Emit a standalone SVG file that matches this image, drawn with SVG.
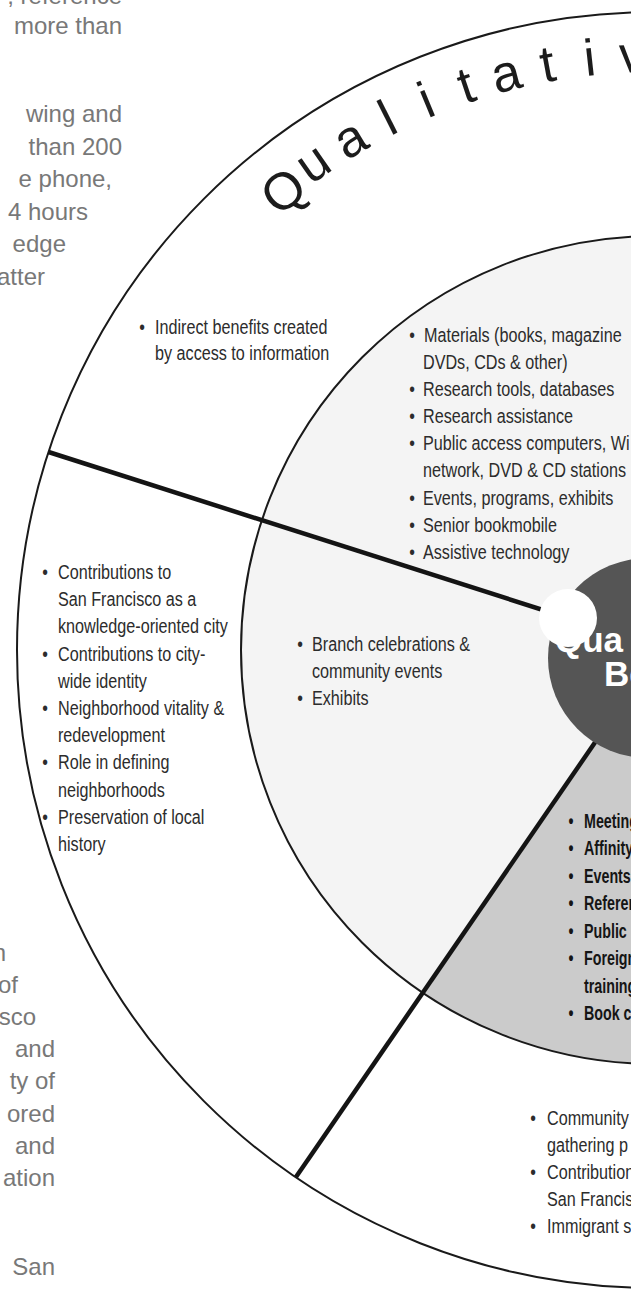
<svg xmlns="http://www.w3.org/2000/svg" width="631" height="1291" viewBox="0 0 631 1291">
<style>
.ring{fill:none;stroke:#1a1a1a;stroke-width:2}
.div{fill:none;stroke:#141414;stroke-width:4.5}
.body{font-family:"Liberation Sans",Arial,sans-serif;font-size:24px;fill:#787878;text-anchor:end}
.c{font-family:"Liberation Sans",Arial,sans-serif;font-size:21px;fill:#2c2c2c}
.cb{font-family:"Liberation Sans",Arial,sans-serif;font-size:21px;fill:#151515;font-weight:bold}
.bl{text-anchor:middle}
.arc{font-family:"Liberation Sans",Arial,sans-serif;font-size:52px;fill:#1c1c1c;text-anchor:middle}
.core{font-family:"Liberation Sans",Arial,sans-serif;font-size:35px;font-weight:bold;fill:#fff}
</style>
<rect width="631" height="1291" fill="#fff"/>

<g id="page-text-top" class="body">
<text x="122" y="4">, reference</text>
<text x="122" y="34">more than</text>
<text x="122" y="122">wing and</text>
<text x="122" y="155">than 200</text>
<text x="112" y="187">e phone,</text>
<text x="88" y="220">4 hours</text>
<text x="66" y="252">edge</text>
<text x="45" y="285">atter</text>
</g>
<g id="page-text-bottom" class="body">
<text x="6" y="961">n</text>
<text x="18" y="993">of</text>
<text x="36" y="1025">sco</text>
<text x="55" y="1057">and</text>
<text x="55" y="1089">ty of</text>
<text x="55" y="1122">ored</text>
<text x="55" y="1154">and</text>
<text x="55" y="1186">ation</text>
<text x="55" y="1275">San</text>
</g>

<g id="inner-disk">
<circle cx="655" cy="650" r="414" fill="#f4f4f4"/>
</g>
<g id="gray-sector">
<path d="M607 725 L423 993 A414 414 0 0 0 1069 650 L655 650 Z" fill="#cbcbcb"/>
</g>
<g id="outer-ring">
<circle class="ring" cx="655" cy="650" r="638"/>
</g>
<g id="middle-ring">
<circle class="ring" cx="655" cy="650" r="414"/>
</g>

<g id="connectors">
<line class="div" x1="48.5" y1="452" x2="568" y2="618"/>
<line class="div" x1="607" y1="725" x2="296" y2="1177"/>
</g>

<g id="core">
<circle cx="648" cy="658" r="100" fill="#555"/>
<text class="core" x="555" y="652">Qua</text>
<text class="core" x="604" y="686">Be</text>
<circle cx="568" cy="618" r="29" fill="#fff"/>
</g>

<g id="ring-title">
<text class="arc" transform="translate(294.4 204.7) rotate(-39)">Q</text>
<text class="arc" transform="translate(322.6 177.1) rotate(-34.9)">u</text>
<text class="arc" transform="translate(359 153.5) rotate(-30.8)">a</text>
<text class="arc" transform="translate(395.3 133.6) rotate(-26.7)">l</text>
<text class="arc" transform="translate(432.9 116.4) rotate(-22.6)">i</text>
<text class="arc" transform="translate(471.6 101.9) rotate(-18.5)">t</text>
<text class="arc" transform="translate(510.3 90.4) rotate(-14.5)">a</text>
<text class="arc" transform="translate(550.7 81.5) rotate(-10.4)">t</text>
<text class="arc" transform="translate(591.6 75.5) rotate(-6.3)">i</text>
<text class="arc" transform="translate(632.8 72.4) rotate(-2.2)">v</text>
</g>

<g id="indirect-benefits" transform="scale(0.77 1)">
<text class="c bl" x="184.42" y="334">•</text>
<text class="c" x="201.3" y="334">Indirect benefits created</text>
<text class="c" x="201.3" y="360">by access to information</text>
</g>

<g id="city-contributions" transform="scale(0.77 1)">
<text class="c bl" x="58.44" y="579">•</text>
<text class="c" x="75.32" y="579">Contributions to</text>
<text class="c" x="75.32" y="606.2">San Francisco as a</text>
<text class="c" x="75.32" y="633.4">knowledge-oriented city</text>
<text class="c bl" x="58.44" y="660.6">•</text>
<text class="c" x="75.32" y="660.6">Contributions to city-</text>
<text class="c" x="75.32" y="687.8">wide identity</text>
<text class="c bl" x="58.44" y="715">•</text>
<text class="c" x="75.32" y="715">Neighborhood vitality &amp;</text>
<text class="c" x="75.32" y="742.2">redevelopment</text>
<text class="c bl" x="58.44" y="769.4">•</text>
<text class="c" x="75.32" y="769.4">Role in defining</text>
<text class="c" x="75.32" y="796.6">neighborhoods</text>
<text class="c bl" x="58.44" y="823.8">•</text>
<text class="c" x="75.32" y="823.8">Preservation of local</text>
<text class="c" x="75.32" y="851">history</text>
</g>

<g id="materials" transform="scale(0.77 1)">
<text class="c bl" x="535.06" y="342">•</text>
<text class="c" x="550.65" y="342">Materials (books, magazine</text>
<text class="c" x="549.35" y="369.1">DVDs, CDs &amp; other)</text>
<text class="c bl" x="535.06" y="396.2">•</text>
<text class="c" x="549.35" y="396.2">Research tools, databases</text>
<text class="c bl" x="535.06" y="423.3">•</text>
<text class="c" x="549.35" y="423.3">Research assistance</text>
<text class="c bl" x="535.06" y="450.4">•</text>
<text class="c" x="549.35" y="450.4">Public access computers, Wi</text>
<text class="c" x="549.35" y="477.5">network, DVD &amp; CD stations</text>
<text class="c bl" x="535.06" y="504.6">•</text>
<text class="c" x="549.35" y="504.6">Events, programs, exhibits</text>
<text class="c bl" x="535.06" y="531.7">•</text>
<text class="c" x="549.35" y="531.7">Senior bookmobile</text>
<text class="c bl" x="535.06" y="558.8">•</text>
<text class="c" x="549.35" y="558.8">Assistive technology</text>
</g>

<g id="branch-events" transform="scale(0.77 1)">
<text class="c bl" x="389.61" y="651">•</text>
<text class="c" x="405.19" y="651">Branch celebrations &amp;</text>
<text class="c" x="405.19" y="678">community events</text>
<text class="c bl" x="389.61" y="705">•</text>
<text class="c" x="405.19" y="705">Exhibits</text>
</g>

<g id="gray-sector-text" transform="scale(0.68 1)">
<text class="cb bl" x="839.71" y="828">•</text>
<text class="cb" x="858.82" y="828">Meeting</text>
<text class="cb bl" x="839.71" y="855.5">•</text>
<text class="cb" x="858.82" y="855.5">Affinity</text>
<text class="cb bl" x="839.71" y="883">•</text>
<text class="cb" x="858.82" y="883">Events</text>
<text class="cb bl" x="839.71" y="910.5">•</text>
<text class="cb" x="858.82" y="910.5">Referen</text>
<text class="cb bl" x="839.71" y="938">•</text>
<text class="cb" x="858.82" y="938">Public</text>
<text class="cb bl" x="839.71" y="965.5">•</text>
<text class="cb" x="858.82" y="965.5">Foreign</text>
<text class="cb" x="858.82" y="993">training</text>
<text class="cb bl" x="839.71" y="1020">•</text>
<text class="cb" x="858.82" y="1020">Book c</text>
</g>

<g id="community" transform="scale(0.77 1)">
<text class="c bl" x="692.21" y="1125">•</text>
<text class="c" x="710.39" y="1125">Community</text>
<text class="c" x="710.39" y="1152">gathering p</text>
<text class="c bl" x="692.21" y="1179">•</text>
<text class="c" x="710.39" y="1179">Contribution</text>
<text class="c" x="710.39" y="1206">San Francisc</text>
<text class="c bl" x="692.21" y="1233">•</text>
<text class="c" x="710.39" y="1233">Immigrant s</text>
</g>
</svg>
